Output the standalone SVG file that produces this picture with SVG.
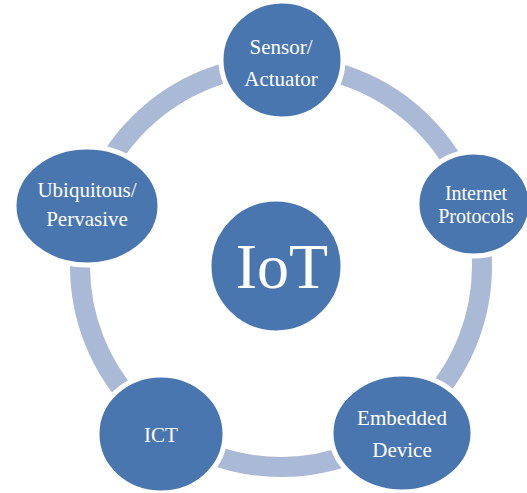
<svg xmlns="http://www.w3.org/2000/svg" width="527" height="493" viewBox="0 0 527 493">
<style>
.node{fill:#4a76b0;stroke:#ffffff;stroke-width:5}
.lbl{font-family:"Liberation Serif","Times New Roman",serif;font-size:21px;fill:#ffffff;text-anchor:middle}
.sm{font-size:20px}
.big{font-size:64px}
</style>
<rect width="527" height="493" fill="#ffffff"/>
<g id="connectors">
<circle cx="281" cy="266" r="201" fill="none" stroke="#a9b9d6" stroke-width="20"/>
</g>
<g id="sensor">
<ellipse class="node" cx="282" cy="60" rx="61" ry="59"/>
<text class="lbl" x="281" y="54">Sensor/</text>
<text class="lbl" x="281" y="86">Actuator</text>
</g>
<g id="internet">
<ellipse class="node" cx="474" cy="204" rx="57" ry="52"/>
<text class="lbl sm" x="476" y="200">Internet</text>
<text class="lbl sm" x="476" y="223">Protocols</text>
</g>
<g id="embedded">
<ellipse class="node" cx="402" cy="433" rx="71" ry="59"/>
<text class="lbl" x="402" y="425">Embedded</text>
<text class="lbl" x="402" y="457">Device</text>
</g>
<g id="ict">
<ellipse class="node" cx="161" cy="434" rx="64" ry="59"/>
<text class="lbl" x="161" y="442">ICT</text>
</g>
<g id="ubiquitous">
<ellipse class="node" cx="87" cy="206" rx="73" ry="59"/>
<text class="lbl" x="87" y="197">Ubiquitous/</text>
<text class="lbl" x="87" y="226">Pervasive</text>
</g>
<g id="iot">
<circle class="node" cx="276" cy="266" r="67"/>
<text class="lbl big" x="282" y="288">IoT</text>
</g>
</svg>
